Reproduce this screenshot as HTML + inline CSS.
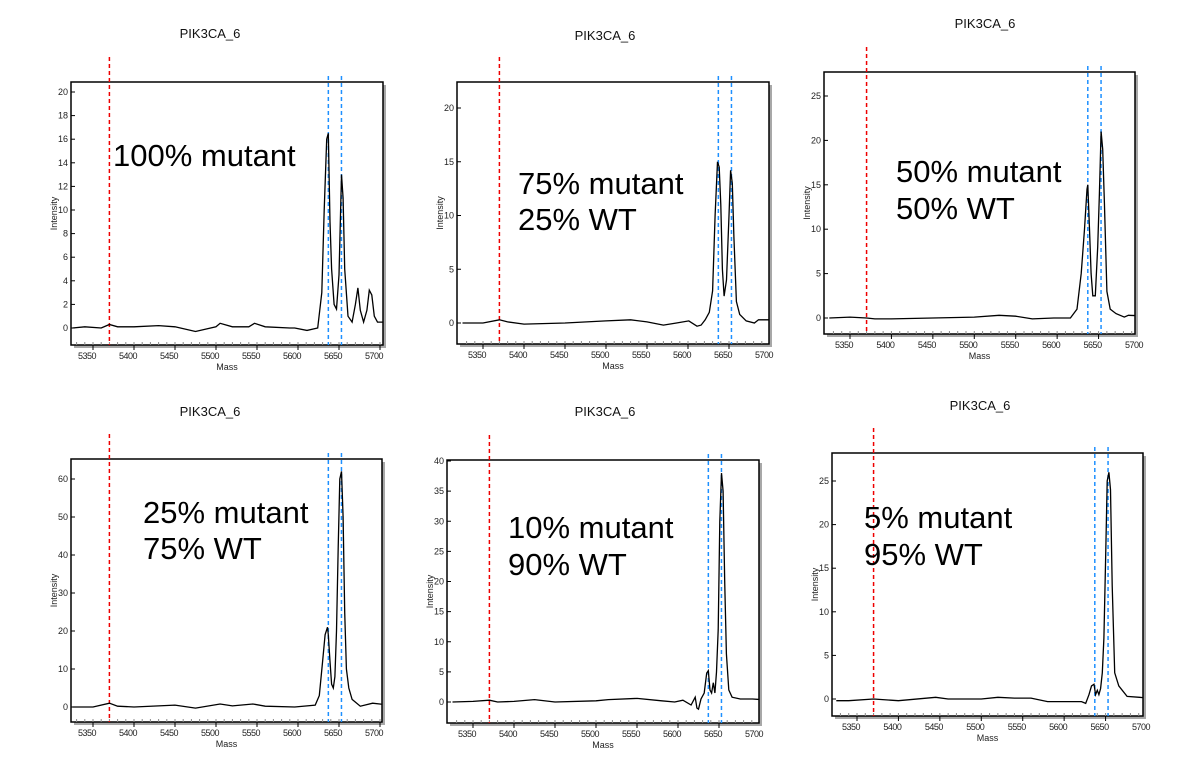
<!DOCTYPE html>
<html><head><meta charset="utf-8">
<style>
html,body{margin:0;padding:0;background:#fff;}
svg{display:block;}
text{font-family:"Liberation Sans",Arial,sans-serif;}
</style></head>
<body>
<svg id="fig" width="1200" height="775" viewBox="0 0 1200 775" xmlns="http://www.w3.org/2000/svg"></svg>
<script>
// ---- data ----
const panelTitles = ["PIK3CA_6","PIK3CA_6","PIK3CA_6","PIK3CA_6","PIK3CA_6","PIK3CA_6"];
const panelLabels = [["100% mutant"],["75% mutant","25% WT"],["50% mutant","50% WT"],["25% mutant","75% WT"],["10% mutant","90% WT"],["5% mutant","95% WT"]];
const xTicks = [5350,5400,5450,5500,5550,5600,5650,5700];
const yTicks1 = [0,2,4,6,8,10,12,14,16,18,20];
const yTicks2 = [0,5,10,15,20];
const yTicks3 = [0,5,10,15,20,25];
const yTicks4 = [0,10,20,30,40,50,60];
const yTicks5 = [0,5,10,15,20,25,30,35,40];
const yTicks6 = [0,5,10,15,20,25];
const redMarker = 5370;
const blueMarkers = [5637,5653];

const mass1 = [5325,5340,5360,5370,5380,5400,5430,5450,5475,5500,5505,5520,5540,5547,5560,5590,5596,5611,5624,5629,5632,5635,5637,5639,5641,5644,5647,5650,5653,5655,5657,5661,5666,5670,5673,5676,5680,5684,5687,5690,5693,5697,5712];
const int1  = [0,0.1,0,0.3,0.1,0.1,0.2,0.1,-0.3,0.1,0.4,0.1,0.1,0.4,0.1,0,0,-0.2,0,3,10,16,16.5,9,5,2,1.6,4.5,13,11,5,1,0.5,2,3.4,1.5,0.5,1.5,3.2,2.8,1,0.5,0.5];
const mass2 = [5325,5350,5370,5380,5400,5450,5500,5530,5550,5570,5586,5601,5611,5616,5621,5626,5630,5633,5636,5638,5640,5642,5644,5647,5650,5652,5654,5656,5659,5663,5671,5681,5686,5712];
const int2  = [0,0,0.3,0.1,-0.1,0,0.2,0.3,0.1,-0.2,0,0.2,-0.3,-0.2,0.3,1,3,10,15,14.5,11,5,2.5,4,10,14.2,13,8,2,0.8,0.2,0,0.3,0.3];
const mass3 = [5325,5350,5370,5380,5400,5450,5500,5530,5550,5570,5596,5616,5624,5629,5633,5636,5637,5639,5641,5643,5646,5649,5651,5653,5655,5657,5660,5664,5671,5681,5686,5712];
const int3  = [0,0.1,0,-0.1,-0.1,0,0.1,0.3,0.2,-0.1,0,0,1,5,10,14.5,15,10,5,2.5,2.5,8,14,21,19,13,3,1,0.5,0.1,0.3,0.2];
const mass4 = [5325,5350,5370,5380,5400,5450,5475,5505,5520,5545,5560,5596,5621,5626,5630,5633,5636,5637,5639,5641,5643,5645,5647,5649,5651,5653,5655,5657,5659,5662,5666,5676,5691,5712];
const int4  = [0,0,1,0.2,0,0.5,-0.3,0.8,0.3,0.8,0.2,0,0.5,3,12,19,21,19,12,6,5,8,20,42,60,62,50,25,10,5,2,0.2,1,0.5];
const mass5 = [5325,5350,5370,5380,5400,5425,5450,5500,5515,5550,5580,5596,5606,5616,5621,5623,5625,5628,5632,5635,5637,5639,5641,5643,5645,5647,5649,5651,5653,5655,5657,5659,5662,5666,5676,5691,5712];
const int5  = [0,0.1,0.3,0,0.1,0.4,0,0.2,0.4,0.6,0.2,0,0.3,-0.5,0.8,-1,-1.2,0.5,1.5,4.8,5.2,2,1.5,3.2,1.5,5,12,30,38,35,20,8,2,0.8,0.5,0.5,0.3];
const mass6 = [5325,5340,5370,5400,5445,5460,5500,5520,5540,5560,5580,5596,5621,5626,5630,5633,5636,5638,5640,5642,5644,5646,5648,5650,5652,5654,5656,5658,5661,5666,5676,5691,5712];
const int6  = [-0.2,-0.2,0,-0.2,0.2,0,0,0.2,0.1,0.1,-0.3,-0.3,-0.3,-0.5,0.5,1.5,1.7,0.5,1,0.5,1.2,3,7,16,25,26,24,13,3,1.5,0.3,0.2,0];

// ---- layout per panel ----
const panels = [
 {box:[71,383,82,345], x0:93, x1:380, y0:328, yTop:92, ymax:20, yt:yTicks1, m:mass1, v:int1, title:[210,38], lab:[113,166,0]},
 {box:[457,769,82,344], x0:483, x1:770, y0:323, yTop:108, ymax:20, yt:yTicks2, m:mass2, v:int2, title:[605,40], lab:[518,194,36]},
 {box:[824,1135,72,334], x0:850, x1:1140, y0:318, yTop:96, ymax:25, yt:yTicks3, m:mass3, v:int3, title:[985,28], lab:[896,182,37]},
 {box:[71,382,459,722], x0:93, x1:380, y0:707, yTop:479, ymax:60, yt:yTicks4, m:mass4, v:int4, title:[210,416], lab:[143,523,36]},
 {box:[447,759,460,723], x0:473, x1:760, y0:702, yTop:461, ymax:40, yt:yTicks5, m:mass5, v:int5, title:[605,416], lab:[508,538,37]},
 {box:[832,1143,453,716], x0:857, x1:1147, y0:699, yTop:481, ymax:25, yt:yTicks6, m:mass6, v:int6, title:[980,410], lab:[864,528,37]}
];

const NS="http://www.w3.org/2000/svg";
const svg=document.getElementById('fig');
function mk(tag,attrs,parent){const e=document.createElementNS(NS,tag);for(const k in attrs)e.setAttribute(k,attrs[k]);(parent||svg).appendChild(e);return e;}

panels.forEach((p,i)=>{
  const g=mk('g',{});
  
  
  const [L,R,T,B]=p.box;
  const sx=m=>p.x0+(m-5350)*(p.x1-p.x0)/350;
  const sy=v=>p.y0-v*(p.y0-p.yTop)/p.ymax;
  const t=mk('text',{x:p.title[0],y:p.title[1],'text-anchor':'middle','font-size':13,fill:'#111'},g);
  t.textContent=panelTitles[i];
  
  
  mk('rect',{x:L+3,y:T+3,width:R-L,height:B-T,fill:'#a8a8a8'},g);
  const box=mk('rect',{x:L,y:T,width:R-L,height:B-T,fill:'#fff',stroke:'#000','stroke-width':1.5},g);
  
  
  for(let m=5330;m<=5710;m+=10){const x=sx(m);if(x<=L||x>=R)continue;mk('line',{x1:x,y1:B,x2:x,y2:B-3,stroke:'#888','stroke-width':1},g);}
  xTicks.forEach(m=>{const x=sx(m);if(x<R)mk('line',{x1:x,y1:B,x2:x,y2:B+5,stroke:'#000','stroke-width':1},g);
    const tl=mk('text',{x:x-6,y:B+14,'text-anchor':'middle','font-size':9,fill:'#222','letter-spacing':'-0.5'},g);tl.textContent=m;
    
    });
  const xl=mk('text',{x:(L+R)/2,y:B+25,'text-anchor':'middle','font-size':9,fill:'#222'},g);xl.textContent='Mass';
  
  
  p.yt.forEach(v=>{const y=sy(v);mk('line',{x1:L,y1:y,x2:L+4,y2:y,stroke:'#000','stroke-width':1},g);
    const tl=mk('text',{x:L-3,y:y+3,'text-anchor':'end','font-size':9,fill:'#222'},g);tl.textContent=v;
    
    });
  const yl=mk('text',{x:L-14,y:(T+B)/2,'text-anchor':'middle','font-size':9,fill:'#222',transform:`rotate(-90 ${L-14} ${(T+B)/2})`},g);yl.textContent='Intensity';
  
  
  const rx=sx(redMarker);
  const rl=mk('line',{x1:rx,y1:T-25,x2:rx,y2:B,stroke:'#e00','stroke-width':1.5,'stroke-dasharray':'4,3'},g);
  
  
  blueMarkers.forEach(m=>{const bx=sx(m);const bl=mk('line',{x1:bx,y1:T-6,x2:bx,y2:B,stroke:'#1e90ff','stroke-width':1.5,'stroke-dasharray':'4,3'},g);
    
    });
  const pts=p.m.map((m,k)=>sx(m).toFixed(1)+','+sy(p.v[k]).toFixed(1)).join(' ');
  const cp=mk('clipPath',{id:'c'+i},g);mk('rect',{x:L,y:T,width:R-L,height:B-T},cp);
  const pl=mk('polyline',{points:pts,fill:'none',stroke:'#000','stroke-width':1.3,'clip-path':`url(#c${i})`},g);
  
  
  panelLabels[i].forEach((s,k)=>{const a=mk('text',{x:p.lab[0],y:p.lab[1]+k*p.lab[2],'font-size':31,fill:'#000'},g);a.textContent=s;
    
    });
});
</script>
</body></html>
